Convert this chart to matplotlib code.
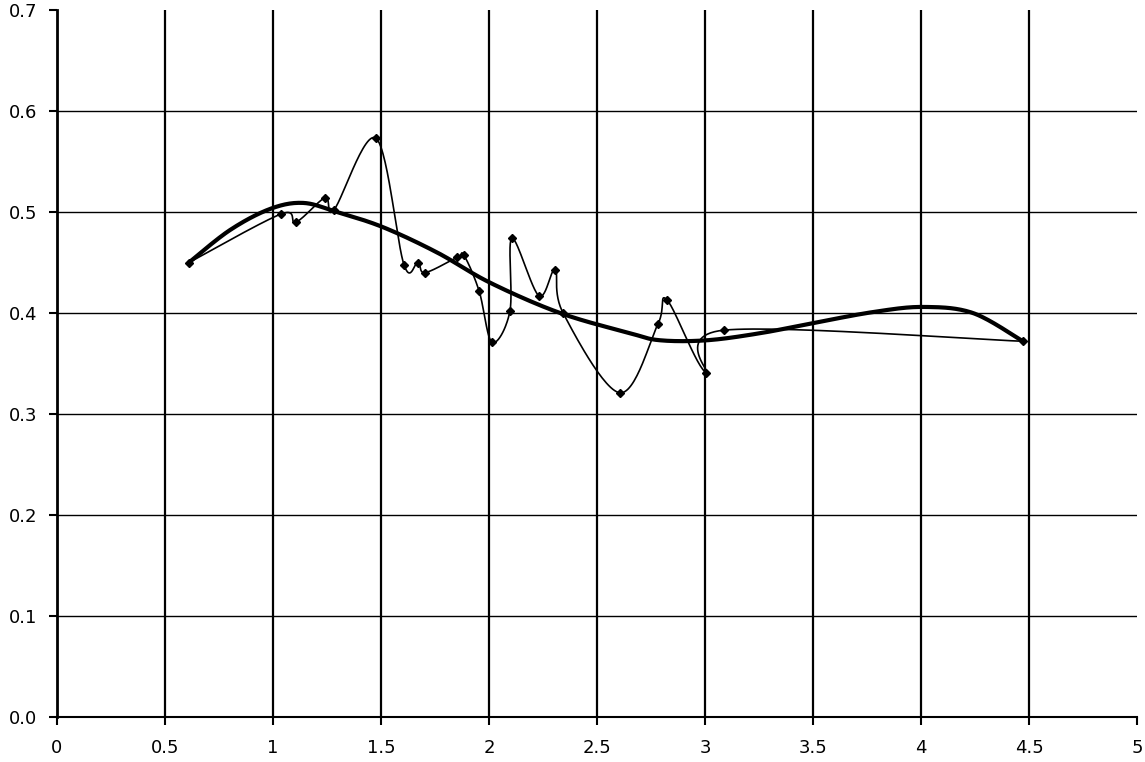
import numpy as np
import matplotlib
matplotlib.use("Agg")
import matplotlib.pyplot as plt

# Measured series (thin smoothed line with markers)
x_data = [0.611, 1.037, 1.106, 1.241, 1.282, 1.477, 1.606, 1.671, 1.704, 1.852,
          1.884, 1.954, 2.014, 2.097, 2.106, 2.231, 2.306, 2.343, 2.606, 2.782,
          2.824, 3.005, 3.088, 4.472]
y_data = [0.450, 0.498, 0.490, 0.514, 0.502, 0.573, 0.448, 0.450, 0.440, 0.455,
          0.457, 0.422, 0.371, 0.402, 0.474, 0.417, 0.443, 0.400, 0.321, 0.389,
          0.413, 0.341, 0.383, 0.372]

# Trend curve (thick line)
x_trend = [0.611, 0.80, 0.986, 1.139, 1.296, 1.509, 1.759, 2.005, 2.329, 2.653,
           2.792, 3.009, 3.255, 3.50, 3.78, 4.01, 4.24, 4.472]
y_trend = [0.450, 0.482, 0.503, 0.509, 0.500, 0.485, 0.460, 0.430, 0.400, 0.380,
           0.373, 0.373, 0.380, 0.390, 0.401, 0.406, 0.400, 0.372]

x_ticks = [0, 0.5, 1, 1.5, 2, 2.5, 3, 3.5, 4, 4.5, 5]
x_labels = ["0", "0.5", "1", "1.5", "2", "2.5", "3", "3.5", "4", "4.5", "5"]
y_ticks = [0.0, 0.1, 0.2, 0.3, 0.4, 0.5, 0.6, 0.7]
y_labels = ["0.0", "0.1", "0.2", "0.3", "0.4", "0.5", "0.6", "0.7"]


def smooth(xs, ys, n=30):
    """Catmull-Rom style Bezier smoothing (like a spreadsheet smoothed line)."""
    xs = np.asarray(xs, float)
    ys = np.asarray(ys, float)
    P = np.column_stack([xs, ys])
    out = []
    m = len(P)
    for i in range(m - 1):
        p0 = P[i - 1] if i > 0 else P[i]
        p1 = P[i]
        p2 = P[i + 1]
        p3 = P[i + 2] if i + 2 < m else P[i + 1]
        c1 = p1 + (p2 - p0) / 6.0
        c2 = p2 - (p3 - p1) / 6.0
        t = np.linspace(0, 1, n)[:, None]
        seg = ((1 - t) ** 3) * p1 + 3 * ((1 - t) ** 2) * t * c1 + 3 * (1 - t) * t ** 2 * c2 + t ** 3 * p2
        out.append(seg if i == 0 else seg[1:])
    pts = np.vstack(out)
    return pts[:, 0], pts[:, 1]


fig = plt.figure(figsize=(11.45, 7.62), dpi=100)
ax = fig.add_axes([57 / 1145, 45 / 762, 1080 / 1145, 707 / 762])

ax.set_xlim(0, 5)
ax.set_ylim(0, 0.7)

for xv in x_ticks[1:-1]:
    ax.axvline(xv, color="black", lw=1.6, zorder=1)
for yv in y_ticks[1:-1]:
    ax.axhline(yv, color="black", lw=1.0, zorder=1)

sx, sy = smooth(x_trend, y_trend)
ax.plot(sx, sy, color="black", lw=3.0, zorder=3, solid_capstyle="round")

dx, dy = smooth(x_data, y_data)
ax.plot(dx, dy, color="black", lw=1.2, zorder=4)
ax.plot(x_data, y_data, linestyle="none", marker="D", ms=4.5, color="black", zorder=5)

ax.set_xticks(x_ticks)
ax.set_xticklabels(x_labels)
ax.set_yticks(y_ticks)
ax.set_yticklabels(y_labels)
ax.tick_params(axis="both", direction="out", length=6, width=1.5, labelsize=13, colors="black")
ax.tick_params(axis="x", pad=10)
ax.tick_params(axis="y", pad=8)

for side in ["top", "right"]:
    ax.spines[side].set_visible(False)
ax.spines["left"].set_linewidth(2)
ax.spines["bottom"].set_linewidth(1.5)

fig.savefig("out.png", dpi=100)
